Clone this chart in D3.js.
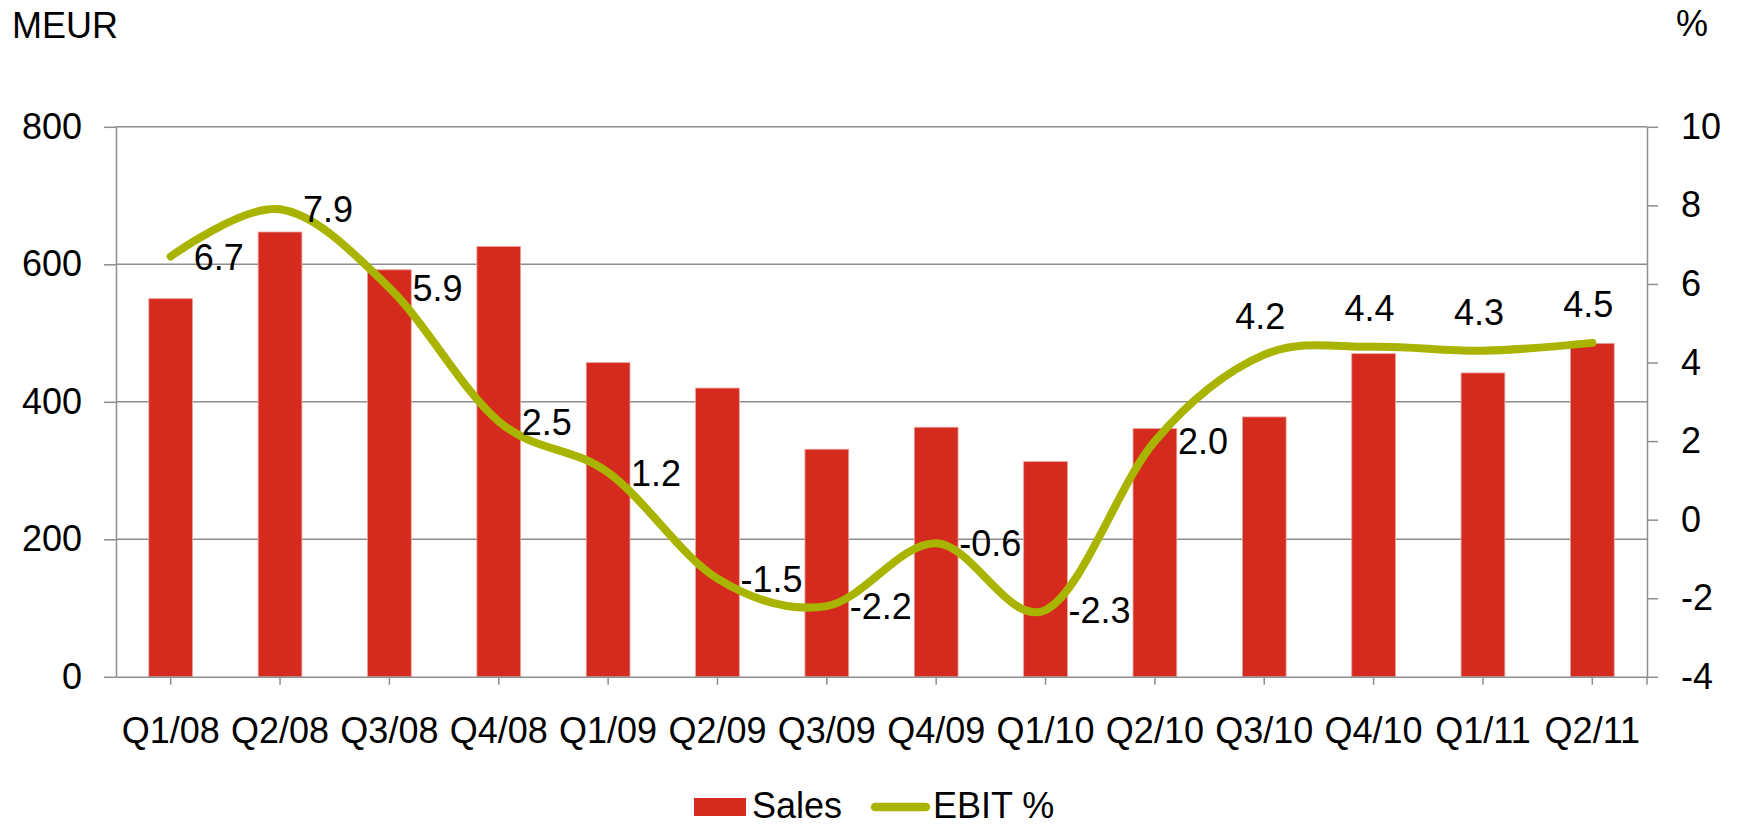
<!DOCTYPE html>
<html>
<head>
<meta charset="utf-8">
<script src="https://cdn.jsdelivr.net/npm/d3@7"></script>
<style>
  html, body { margin: 0; padding: 0; background: #fff; }
  svg { display: block; }
  text { font-family: "Liberation Sans", Arial, sans-serif; fill: #000; }
</style>
</head>
<body>
<svg id="chart" width="1739" height="826"></svg>
<script>
const categories = ["Q1/08","Q2/08","Q3/08","Q4/08","Q1/09","Q2/09","Q3/09","Q4/09","Q1/10","Q2/10","Q3/10","Q4/10","Q1/11","Q2/11"];
const sales = [550, 647, 592, 626, 457, 420, 331, 363, 313, 361, 378, 470, 442, 485];
const ebit = [6.7, 7.9, 5.9, 2.5, 1.2, -1.5, -2.2, -0.6, -2.3, 2.0, 4.2, 4.4, 4.3, 4.5];
const ebitLabelSide = ["right","right","right","right","right","right","right","right","right","right","above","above","above","above"];
const leftTicks = [0, 200, 400, 600, 800];
const rightTicks = [-4, -2, 0, 2, 4, 6, 8, 10];
const seriesNames = ["Sales", "EBIT %"];

const barColor = "#d52b1e";
const lineColor = "#a9b400";
const gridColor = "#8e8e8e";
const fontSize = 36;

const svg = d3.select("#chart");
const plot = { left: 116, right: 1647, top: 126.8, bottom: 676.8 };

const x = d3.scaleBand().domain(categories).range([plot.left, plot.right]).padding(0);
const yL = d3.scaleLinear().domain([0, 800]).range([plot.bottom, plot.top]);
const yR = d3.scaleLinear().domain([-4, 10]).range([plot.bottom, plot.top]);
const cx = c => x(c) + x.bandwidth() / 2;
const plain = d => String(d);

// gridlines
svg.append("g").selectAll("line").data(leftTicks.filter(t => t > 0)).join("line")
  .attr("x1", plot.left).attr("x2", plot.right)
  .attr("y1", d => yL(d)).attr("y2", d => yL(d))
  .attr("stroke", gridColor).attr("stroke-width", 1.5);

// bars
const bw = x.bandwidth() * 0.4;
svg.append("g").selectAll("rect").data(categories).join("rect")
  .attr("x", (c) => cx(c) - bw / 2)
  .attr("width", bw)
  .attr("y", (c, i) => yL(sales[i]))
  .attr("height", (c, i) => yL(0) - yL(sales[i]))
  .attr("fill", barColor)
  .attr("stroke", "#eba39d").attr("stroke-width", 0.8);

// axes
function styleAxis(g) {
  g.selectAll("path.domain").attr("stroke", gridColor).attr("stroke-width", 1.5);
  g.selectAll(".tick line").attr("stroke", gridColor).attr("stroke-width", 1.5);
  g.selectAll("text").style("font-size", fontSize + "px")
    .style("font-family", '"Liberation Sans", Arial, sans-serif').attr("fill", "#000");
  g.attr("font-family", null).attr("font-size", null);
}

const axL = svg.append("g").attr("transform", `translate(${plot.left},0)`)
  .call(d3.axisLeft(yL).tickValues(leftTicks).tickFormat(plain).tickSize(12).tickSizeOuter(0).tickPadding(22));
styleAxis(axL);

const axR = svg.append("g").attr("transform", `translate(${plot.right},0)`)
  .call(d3.axisRight(yR).tickValues(rightTicks).tickFormat(plain).tickSize(11).tickSizeOuter(0).tickPadding(23));
styleAxis(axR);

const axB = svg.append("g").attr("transform", `translate(0,${plot.bottom})`)
  .call(d3.axisBottom(x).tickSize(8).tickSizeOuter(0).tickPadding(32.6));
styleAxis(axB);
svg.append("line").attr("x1", plot.right).attr("x2", plot.right)
  .attr("y1", plot.bottom).attr("y2", plot.bottom + 8)
  .attr("stroke", gridColor).attr("stroke-width", 1.5);

// EBIT line
const line = d3.line()
  .x((d, i) => cx(categories[i]))
  .y(d => yR(d))
  .curve(d3.curveCardinal.tension(0));
svg.append("path").datum(ebit)
  .attr("d", line)
  .attr("fill", "none")
  .attr("stroke", lineColor)
  .attr("stroke-width", 8)
  .attr("stroke-linecap", "round")
  .attr("stroke-linejoin", "round");

// data labels
svg.append("g").selectAll("text").data(ebit).join("text")
  .attr("x", (d, i) => ebitLabelSide[i] === "right" ? cx(categories[i]) + 23 : cx(categories[i]) - 4)
  .attr("y", (d, i) => ebitLabelSide[i] === "right" ? yR(d) + 0.5 : yR(d) - 26)
  .attr("dy", (d, i) => ebitLabelSide[i] === "right" ? "0.35em" : 0)
  .attr("text-anchor", (d, i) => ebitLabelSide[i] === "right" ? "start" : "middle")
  .style("font-size", fontSize + "px")
  .text(d => d.toFixed(1));

// axis titles
svg.append("text").attr("x", 12).attr("y", 38).style("font-size", fontSize + "px").text("MEUR");
svg.append("text").attr("x", 1676).attr("y", 36).style("font-size", fontSize + "px").text("%");

// legend
const lg = svg.append("g").attr("transform", "translate(0,-3)");
lg.append("rect").attr("x", 694).attr("y", 801).attr("width", 52).attr("height", 18).attr("fill", barColor);
lg.append("text").attr("x", 752).attr("y", 821).style("font-size", fontSize + "px").text(seriesNames[0]);
lg.append("line").attr("x1", 875).attr("x2", 926).attr("y1", 810).attr("y2", 810)
  .attr("stroke", lineColor).attr("stroke-width", 8.5).attr("stroke-linecap", "round");
lg.append("text").attr("x", 933).attr("y", 821).style("font-size", fontSize + "px").text(seriesNames[1]);
</script>
</body>
</html>
